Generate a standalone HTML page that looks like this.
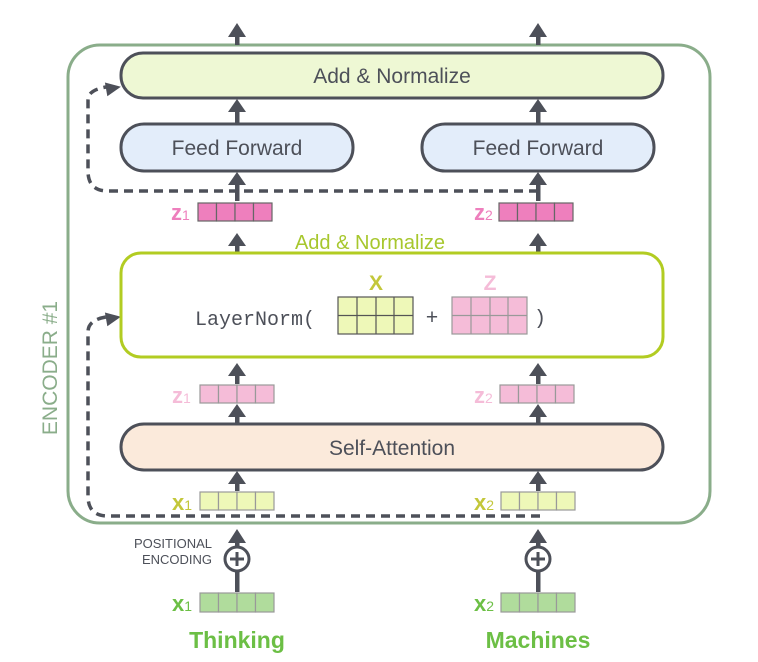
<!DOCTYPE html>
<html><head><style>body{margin:0;background:#fff}svg{display:block}</style></head><body>
<svg width="758" height="662" viewBox="0 0 758 662" xmlns="http://www.w3.org/2000/svg" font-family="Liberation Sans, sans-serif">
<!-- encoder box -->
<rect x="68" y="45" width="642" height="478" rx="32" fill="none" stroke="#8aad8a" stroke-width="3"/>
<text transform="translate(57,368) rotate(-90)" text-anchor="middle" font-size="21" fill="#8aad8a">ENCODER #1</text>

<g fill="#4d5059" stroke="none">
<path d="M228,37 L237,23 L246,37 Z"/><rect x="235" y="36" width="4.5" height="9"/>
<path d="M529,37 L538,23 L547,37 Z"/><rect x="536" y="36" width="4.5" height="9"/>
<path d="M228,112 L237,99 L246,112 Z"/><rect x="235" y="111" width="4.5" height="13"/>
<path d="M529,112 L538,99 L547,112 Z"/><rect x="536" y="111" width="4.5" height="13"/>
<path d="M228,185 L237,172 L246,185 Z"/><rect x="235" y="184" width="4.5" height="17"/>
<path d="M529,185 L538,172 L547,185 Z"/><rect x="536" y="184" width="4.5" height="17"/>
<path d="M228,246 L237,233 L246,246 Z"/><rect x="235" y="245" width="4.5" height="7"/>
<path d="M529,246 L538,233 L547,246 Z"/><rect x="536" y="245" width="4.5" height="7"/>
<path d="M228,376 L237,363 L246,376 Z"/><rect x="235" y="375" width="4.5" height="9"/>
<path d="M529,376 L538,363 L547,376 Z"/><rect x="536" y="375" width="4.5" height="9"/>
<path d="M228,417 L237,404 L246,417 Z"/><rect x="235" y="416" width="4.5" height="7"/>
<path d="M529,417 L538,404 L547,417 Z"/><rect x="536" y="416" width="4.5" height="7"/>
<path d="M228,484 L237,471 L246,484 Z"/><rect x="235" y="483" width="4.5" height="8"/>
<path d="M529,484 L538,471 L547,484 Z"/><rect x="536" y="483" width="4.5" height="8"/>
<path d="M228,543 L237,529 L246,543 Z"/><rect x="235" y="542" width="4.5" height="5"/>
<path d="M529,543 L538,529 L547,543 Z"/><rect x="536" y="542" width="4.5" height="5"/>
<rect x="235" y="570" width="4.5" height="22"/><rect x="536" y="570" width="4.5" height="22"/>
<path d="M106,81 L121,88 L106,95 Z" transform="rotate(-10 114 88)"/>
<path d="M106,311 L121,318 L106,325 Z" transform="rotate(-10 114 318)"/>
</g>
<path d="M538,191 L108,191 Q88,191 88,171 L88,100 Q88,90 106,87" fill="none" stroke="#4d5059" stroke-width="3.5" stroke-dasharray="9,6"/>
<path d="M540,516 L108,516 Q88,516 88,496 L88,332 Q88,320 106,317" fill="none" stroke="#4d5059" stroke-width="3.5" stroke-dasharray="9,6"/>

<rect x="121" y="53" width="542" height="45" rx="22" fill="#eef8d4" stroke="#4d5059" stroke-width="3"/>
<text x="392" y="83" text-anchor="middle" font-size="21" fill="#4d5059">Add &amp; Normalize</text>
<rect x="121" y="124" width="232" height="47" rx="23" fill="#e3edfa" stroke="#4d5059" stroke-width="3"/>
<text x="237" y="155" text-anchor="middle" font-size="21" fill="#4d5059">Feed Forward</text>
<rect x="422" y="124" width="232" height="47" rx="23" fill="#e3edfa" stroke="#4d5059" stroke-width="3"/>
<text x="538" y="155" text-anchor="middle" font-size="21" fill="#4d5059">Feed Forward</text>

<text x="370" y="249" text-anchor="middle" font-size="20" fill="#a7c72d">Add &amp; Normalize</text>
<rect x="121" y="253" width="542" height="104" rx="20" fill="#fff" stroke="#b2cc22" stroke-width="3"/>
<text x="195" y="325" font-family="Liberation Mono, monospace" font-size="20" fill="#4d5059">LayerNorm(</text>
<text x="376" y="290" text-anchor="middle" font-size="21" font-weight="bold" fill="#c3c73a">X</text>
<text x="490" y="290" text-anchor="middle" font-size="21" font-weight="bold" fill="#f5bcd8">Z</text>
<text x="432" y="324" text-anchor="middle" font-size="21" fill="#4d5059">+</text>
<text x="540" y="324" text-anchor="middle" font-family="Liberation Mono, monospace" font-size="20" fill="#4d5059">)</text>
<g stroke="#555" stroke-width="1.2">
<rect x="338" y="297" width="75" height="37" fill="#eef8b8"/>
<line x1="338" y1="315.5" x2="413" y2="315.5"/><line x1="357" y1="297" x2="357" y2="334"/><line x1="376" y1="297" x2="376" y2="334"/><line x1="394" y1="297" x2="394" y2="334"/>
<rect x="452" y="297" width="75" height="37" fill="#f5bcd8" stroke="#999"/>
<line x1="452" y1="315.5" x2="527" y2="315.5" stroke="#999"/><line x1="471" y1="297" x2="471" y2="334" stroke="#999"/><line x1="490" y1="297" x2="490" y2="334" stroke="#999"/><line x1="508" y1="297" x2="508" y2="334" stroke="#999"/>
</g>

<rect x="121" y="424" width="542" height="46" rx="23" fill="#fbeadb" stroke="#4d5059" stroke-width="3"/>
<text x="392" y="455" text-anchor="middle" font-size="21" fill="#4d5059">Self-Attention</text>

<g stroke="#666" stroke-width="1.2">
<g fill="#ee7fbd"><rect x="198" y="203" width="18.5" height="18"/><rect x="216.5" y="203" width="18.5" height="18"/><rect x="235" y="203" width="18.5" height="18"/><rect x="253.5" y="203" width="18.5" height="18"/>
<rect x="499" y="203" width="18.5" height="18"/><rect x="517.5" y="203" width="18.5" height="18"/><rect x="536" y="203" width="18.5" height="18"/><rect x="554.5" y="203" width="18.5" height="18"/></g>
<g fill="#f5bcd8" stroke="#999"><rect x="200" y="385" width="18.5" height="18"/><rect x="218.5" y="385" width="18.5" height="18"/><rect x="237" y="385" width="18.5" height="18"/><rect x="255.5" y="385" width="18.5" height="18"/>
<rect x="500" y="385" width="18.5" height="18"/><rect x="518.5" y="385" width="18.5" height="18"/><rect x="537" y="385" width="18.5" height="18"/><rect x="555.5" y="385" width="18.5" height="18"/></g>
<g fill="#eef8b8" stroke="#999"><rect x="200" y="492" width="18.5" height="18"/><rect x="218.5" y="492" width="18.5" height="18"/><rect x="237" y="492" width="18.5" height="18"/><rect x="255.5" y="492" width="18.5" height="18"/>
<rect x="501" y="492" width="18.5" height="18"/><rect x="519.5" y="492" width="18.5" height="18"/><rect x="538" y="492" width="18.5" height="18"/><rect x="556.5" y="492" width="18.5" height="18"/></g>
<g fill="#b0dc9c" stroke="#999"><rect x="200" y="593" width="18.5" height="19"/><rect x="218.5" y="593" width="18.5" height="19"/><rect x="237" y="593" width="18.5" height="19"/><rect x="255.5" y="593" width="18.5" height="19"/>
<rect x="501" y="593" width="18.5" height="19"/><rect x="519.5" y="593" width="18.5" height="19"/><rect x="538" y="593" width="18.5" height="19"/><rect x="556.5" y="593" width="18.5" height="19"/></g>
</g>
<g font-weight="bold" font-size="22">
<text x="171" y="220" fill="#ee7fbd">z<tspan font-size="14" font-weight="normal">1</tspan></text>
<text x="474" y="220" fill="#ee7fbd">z<tspan font-size="14" font-weight="normal">2</tspan></text>
<text x="172" y="403" fill="#f5bcd8">z<tspan font-size="14" font-weight="normal">1</tspan></text>
<text x="474" y="403" fill="#f5bcd8">z<tspan font-size="14" font-weight="normal">2</tspan></text>
<text x="172" y="510" fill="#c3c73a">x<tspan font-size="14" font-weight="normal">1</tspan></text>
<text x="474" y="510" fill="#c3c73a">x<tspan font-size="14" font-weight="normal">2</tspan></text>
<text x="172" y="611" fill="#6cbf45">x<tspan font-size="14" font-weight="normal">1</tspan></text>
<text x="474" y="611" fill="#6cbf45">x<tspan font-size="14" font-weight="normal">2</tspan></text>
</g>
<text x="212" y="548" text-anchor="end" font-size="13" fill="#4d5059">POSITIONAL</text>
<text x="212" y="564" text-anchor="end" font-size="13" fill="#4d5059">ENCODING</text>
<g fill="#fff" stroke="#4d5059" stroke-width="3">
<circle cx="237" cy="559" r="12"/><circle cx="538" cy="559" r="12"/>
</g>
<g stroke="#4d5059" stroke-width="3">
<line x1="230" y1="559" x2="244" y2="559"/><line x1="237" y1="552" x2="237" y2="566"/>
<line x1="531" y1="559" x2="545" y2="559"/><line x1="538" y1="552" x2="538" y2="566"/>
</g>
<text x="237" y="648" text-anchor="middle" font-size="23" font-weight="bold" fill="#6cbf45">Thinking</text>
<text x="538" y="648" text-anchor="middle" font-size="23" font-weight="bold" fill="#6cbf45">Machines</text>
</svg>
</body></html>
